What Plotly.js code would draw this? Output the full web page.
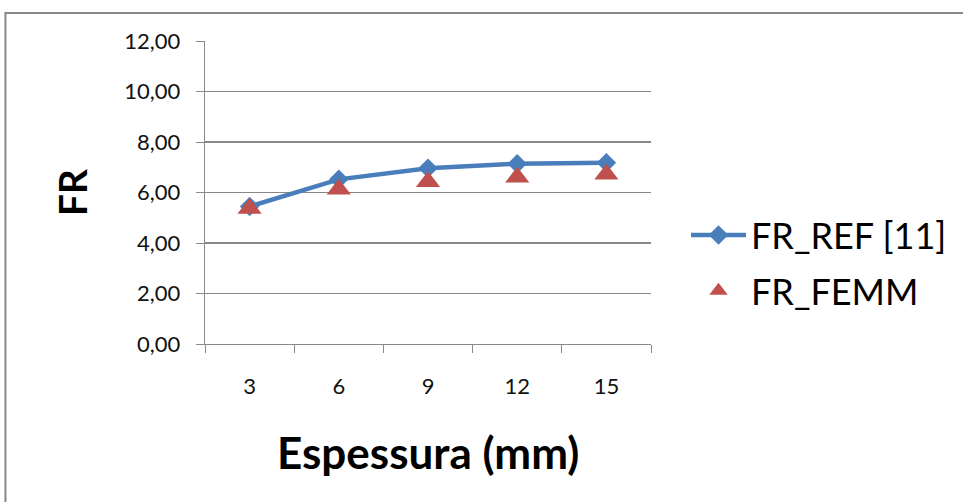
<!DOCTYPE html>
<html><head><meta charset="utf-8">
<script src="https://cdn.plot.ly/plotly-3.0.1.min.js"></script>
<style>body{margin:0;background:#fff}#c{width:963px;height:502px}</style>
</head><body><div id="c"></div>
<script>
const categories = ["3", "6", "9", "12", "15"];
const frRef = [5.45, 6.52, 6.96, 7.14, 7.18];
const frFemm = [5.37, 6.13, 6.43, 6.60, 6.72];
const yTicks = [0, 2, 4, 6, 8, 10, 12];

const L = 205, R = 311, T = 41, B = 158, W = 963, H = 502;
const pw = W - L - R, ph = H - T - B;
const font = "Lato, 'Open Sans', sans-serif";
const px = v => (v - L) / pw;
const py = v => 1 - (v - T) / ph;

const traces = [
  {x: categories, y: frRef, name: "FR_REF [11]", type: "scatter", mode: "lines+markers", legendgroup: "a",
   line: {color: "#4A7EBB", width: 4.5}, marker: {symbol: "diamond", size: 15, color: "#4A7EBB"}},
  {x: categories, y: frFemm, name: "FR_FEMM", type: "scatter", mode: "markers", legendgroup: "b",
   marker: {symbol: "triangle-up", size: 21, color: "#C0504D"}}
];

const layout = {
  width: W, height: H,
  margin: {l: L, r: R, t: T, b: B, pad: 0},
  paper_bgcolor: "#fff", plot_bgcolor: "#fff",
  font: {family: font, color: "#000"},
  separators: ",.",
  xaxis: {type: "category", range: [-0.5, 4.5], showgrid: false, showline: true, linecolor: "#888", linewidth: 1.3,
    ticks: "outside", tickson: "boundaries", ticklen: 8, tickcolor: "#888", ticklabelstandoff: 22,
    tickfont: {size: 22, family: font, color: "#111"}, zeroline: false, fixedrange: true},
  yaxis: {range: [0, 12], tickvals: yTicks, tickformat: ".2f", showgrid: true, gridcolor: "#888", gridwidth: 1.3,
    showline: true, linecolor: "#888", linewidth: 1.3, ticks: "outside", ticklen: 8, tickcolor: "#888",
    ticklabelstandoff: 11,
    tickfont: {size: 22, family: font, color: "#111"}, zeroline: false, fixedrange: true},
  annotations: [
    {text: "<b>Espessura (mm)</b>", xref: "paper", yref: "paper", x: px(428), y: py(452),
     xanchor: "center", yanchor: "middle", showarrow: false, font: {size: 44, family: font, color: "#000"}},
    {text: "<b>FR</b>", xref: "paper", yref: "paper", x: px(72), y: py(192), textangle: -90,
     xanchor: "center", yanchor: "middle", showarrow: false, font: {size: 39, family: font, color: "#000"}}
  ],
  legend: {x: px(686), y: py(205), xanchor: "left", yanchor: "top", traceorder: "grouped",
    font: {size: 36, family: font}, tracegroupgap: 6, itemwidth: 55, bgcolor: "rgba(0,0,0,0)"},
  shapes: [{type: "rect", xref: "paper", yref: "paper",
    x0: px(5), x1: 2, y0: -1, y1: py(13),
    line: {color: "#888", width: 2}, fillcolor: "rgba(0,0,0,0)", layer: "below"}],
  showlegend: true
};
Plotly.newPlot("c", traces, layout, {displayModeBar: false, staticPlot: true});
</script></body></html>
